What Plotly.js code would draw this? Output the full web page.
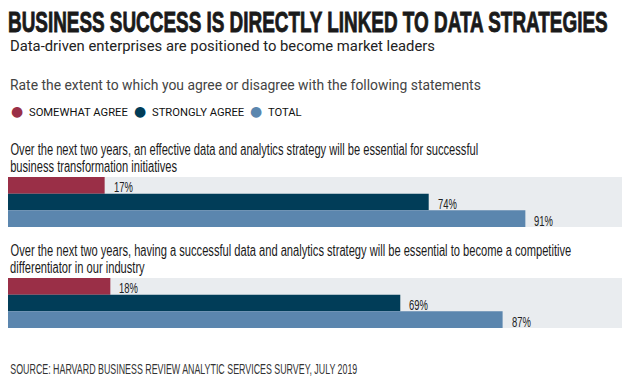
<!DOCTYPE html>
<html>
<head>
<meta charset="utf-8">
<script src="https://cdn.plot.ly/plotly-3.0.1.min.js"></script>
<style>
  html, body { margin: 0; padding: 0; background: #fff; }
  #chart { width: 629px; height: 388px; }
  text.gtitle {
    transform-box: fill-box; transform-origin: 0% 50%; transform: scaleX(0.652);
    stroke: #1a1a1a; stroke-width: 0.9px;
  }
</style>
</head>
<body>
<div id="chart"></div>
<script>
// ---- Data ----
const categories = [
  "Over the next two years, an effective data and analytics strategy will be essential for successful<br>business transformation initiatives",
  "Over the next two years, having a successful data and analytics strategy will be essential to become a competitive<br>differentiator in our industry"
];
const seriesNames = ["SOMEWHAT AGREE", "STRONGLY AGREE", "TOTAL"];
const somewhatAgree = [17, 18];
const stronglyAgree = [74, 69];
const total = [91, 87];

const titleText = "BUSINESS SUCCESS IS DIRECTLY LINKED TO DATA STRATEGIES";
const subtitleText = "Data-driven enterprises are positioned to become market leaders";
const questionText = "Rate the extent to which you agree or disagree with the following statements";
const sourceText = "SOURCE: HARVARD BUSINESS REVIEW ANALYTIC SERVICES SURVEY, JULY 2019";

// ---- Styles ----
const colors = ["#9A2F47", "#013D58", "#5B86AE"];
const series = [somewhatAgree, stronglyAgree, total];
const W = 629, H = 388;
const M = {l: 8, r: 7, t: 177, b: 60};
const plotW = W - M.l - M.r, plotH = H - M.t - M.b;
const xp = px => (px - M.l) / plotW;
const yp = py => (H - M.b - py) / plotH;
const SANS = "Liberation Sans, Arial, sans-serif";
const half = 0.2475;        // half group thickness in category units
const barUnit = 0.165;      // one bar thickness in category units

const traces = series.map((vals, k) => ({
  type: "bar",
  orientation: "h",
  name: seriesNames[k],
  x: vals,
  y: categories,
  marker: {color: colors[k], line: {width: 0}},
  hoverinfo: "skip",
  showlegend: false
}));

const annotations = [];
const squeeze = []; // horizontal condensing per annotation (the original uses a condensed typeface)

// Subtitle
annotations.push({text: subtitleText, xref: "paper", yref: "paper", x: xp(8), y: yp(46), xanchor: "left", yanchor: "middle",
  showarrow: false, font: {family: "Roboto, sans-serif", size: 14.8, color: "#222"}});
squeeze.push(1);
// Question
annotations.push({text: questionText, xref: "paper", yref: "paper", x: xp(8), y: yp(84.5), xanchor: "left", yanchor: "middle",
  showarrow: false, font: {family: "Roboto, sans-serif", size: 13.9, color: "#444"}});
squeeze.push(1);

// Legend
const legendX = [16.5, 140, 256];
seriesNames.forEach((nm, k) => {
  annotations.push({text: "●", xref: "paper", yref: "paper", x: xp(legendX[k]), y: yp(111.5), xanchor: "center", yanchor: "middle",
    showarrow: false, font: {family: "DejaVu Sans, sans-serif", size: 14, color: colors[k]}});
  squeeze.push(1);
  annotations.push({text: nm, xref: "paper", yref: "paper", x: xp(legendX[k] + 10), y: yp(112), xanchor: "left", yanchor: "middle",
    showarrow: false, font: {family: "Roboto, sans-serif", size: 11.2, color: "#111"}});
  squeeze.push(1);
});

// Category statements (two lines each)
categories.forEach((c, i) => {
  const lines = c.split("<br>");
  lines.forEach((ln, j) => {
    annotations.push({text: ln, xref: "paper", yref: "y", x: 0, y: i - half, yshift: 27.5 - j * 16.8,
      xanchor: "left", yanchor: "middle", showarrow: false,
      font: {family: SANS, size: 16, color: "#1a1a1a"}});
    squeeze.push(0.696);
  });
});

// Value labels
series.forEach((vals, k) => {
  vals.forEach((v, i) => {
    annotations.push({text: v + "%", xref: "x", yref: "y", x: v, y: i + (k - 1) * barUnit, xshift: 7, yshift: -1.5,
      xanchor: "left", yanchor: "middle", showarrow: false,
      font: {family: SANS, size: 15, color: "#222"}});
    squeeze.push(0.63);
  });
});

// Source
annotations.push({text: sourceText, xref: "paper", yref: "paper", x: xp(8), y: yp(368.5), xanchor: "left", yanchor: "middle",
  showarrow: false, font: {family: SANS, size: 14, color: "#333"}});
squeeze.push(0.633);

// Stylesheet that condenses the narrow-typeface annotations
const css = squeeze.map((s, i) => s === 1 ? "" :
  'g.annotation[data-index="' + i + '"] text { transform-box: fill-box; transform-origin: 0% 50%; transform: scaleX(' + s + '); }'
).join("\n");
const st = document.createElement("style");
st.textContent = css;
document.head.appendChild(st);

// Grey background bands per statement
const shapes = categories.map((c, i) => ({
  type: "rect", xref: "paper", yref: "y", x0: 0, x1: 1, y0: i - half, y1: i + half,
  fillcolor: "#E9ECEF", line: {width: 0}, layer: "below"
}));

const layout = {
  width: W, height: H,
  margin: M,
  paper_bgcolor: "#ffffff",
  plot_bgcolor: "rgba(0,0,0,0)",
  title: {
    text: titleText,
    font: {family: SANS, size: 29, weight: 700, color: "#1a1a1a"},
    xref: "container", yref: "container",
    x: 8 / W, xanchor: "left",
    y: 1 - 21.5 / H, yanchor: "middle"
  },
  barmode: "group",
  bargap: 1 - 2 * half,
  bargroupgap: 0,
  xaxis: {range: [0, 108], visible: false, fixedrange: true},
  yaxis: {type: "category", categoryorder: "array", categoryarray: categories,
          range: [1 + half, -half], autorange: false, visible: false, fixedrange: true},
  shapes: shapes,
  annotations: annotations,
  showlegend: false
};

Plotly.newPlot("chart", traces, layout, {staticPlot: true, responsive: false});
</script>
</body>
</html>
